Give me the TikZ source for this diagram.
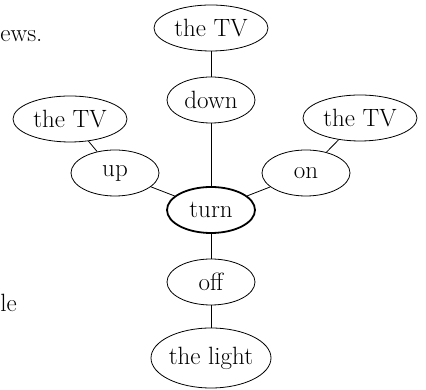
\documentclass[tikz,border=0pt]{standalone}
\usetikzlibrary{shapes.geometric,positioning}
\begin{document}
\begin{tikzpicture}[-, on grid, line width=0.8pt, word/.style={ellipse, draw, inner sep=0pt, minimum width=88pt, minimum height=46pt}, wide word/.style={word, minimum width=114pt}]
    \tikzstyle{every node}=[font=\fontsize{25}{28}\selectfont]
    \useasboundingbox (0,0) rectangle (426pt,390pt);

      \node[word, line width=1.8pt] (turn) at (211pt,180pt) {turn};
      \node[word] (up) [above left=37pt and 96pt of turn] {up};
      \node[wide word] (upTV) [above left=54pt and 45pt of up] {the TV};
      \node[word] (on) [above right=37pt and 95pt of turn] {on};
      \node[wide word] (onTV) [above right=55pt and 54pt of on] {the TV};
      \node[word] (down) [above=110pt of turn] {down};
      \node[wide word] (downTV) [above=72pt of down] {the TV};
      \node[word] (off) [below=72pt of turn] {off};
      \node[wide word, minimum width=120pt, minimum height=60pt] (light) [below=76pt of off] {the light};

      % cut-off words of the running text
      \node[anchor=base west, inner sep=0pt] (ews) at (0pt,348pt) {ews.};
      \node[anchor=base west, inner sep=0pt] (le) at (0pt,78pt) {le};

      \path
        (turn) edge (up)
               edge (on)
               edge (down)
               edge (off)
        (up) edge (upTV)
        (on) edge (onTV)
        (down) edge (downTV)
        (off) edge (light);

    \end{tikzpicture}
\end{document}
